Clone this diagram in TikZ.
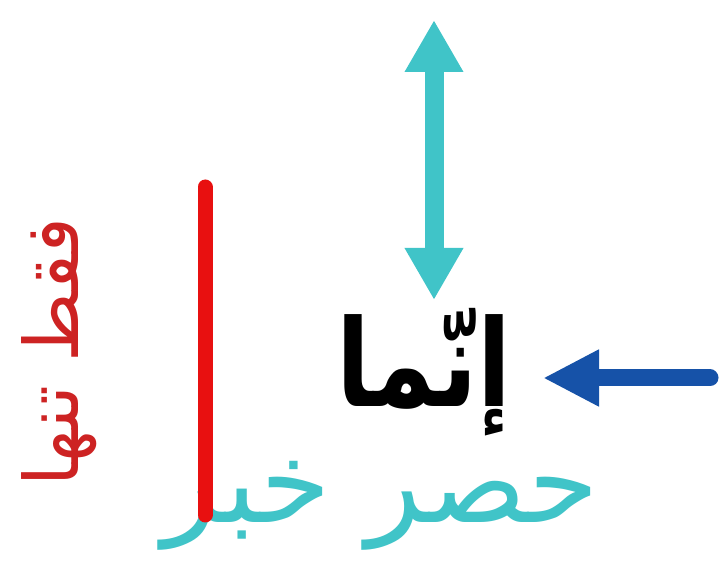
\documentclass[tikz,border=0pt]{standalone}
\usepackage{fontspec}
\usetikzlibrary{arrows.meta}
\TeXXeTstate=1
\newfontfamily\arabicfont[Script=Arabic]{DejaVu Sans}
\definecolor{tealc}{RGB}{64,196,200}
\definecolor{redl}{RGB}{232,16,16}
\definecolor{redt}{RGB}{205,35,35}
\definecolor{bluec}{RGB}{22,82,168}
\tikzset{
  dblarrow/.style={draw=tealc, line width=19pt, {Triangle[width=55pt,length=52pt]}-{Triangle[width=55pt,length=52pt]}},
  leftarrow/.style={draw=bluec, line width=17pt, line cap=round, -{Triangle[width=53pt,length=56pt]}},
  redbar/.style={draw=redl, line width=15pt, line cap=round},
  lbl/.style={inner sep=0pt, outer sep=0pt, anchor=base}
}
\begin{document}
\begin{tikzpicture}[x=1pt,y=1pt]
\useasboundingbox (0,0) rectangle (725,570);
\fill[white] (0,0) rectangle (725,570);
\coordinate (ab) at (434,270);
\coordinate (at) at (434,550);
\draw[dblarrow] (ab) -- (at);
\node[lbl, text=black, font=\arabicfont\bfseries\fontsize{110}{130}\selectfont] (innama) at (424,163) {\scalebox{0.9}[1.1]{\beginR إنّما\endR}};
\coordinate (btail) at (710,192);
\coordinate (btip) at (543,192);
\draw[leftarrow] (btail) -- (btip);
\node[lbl, text=tealc, font=\arabicfont\fontsize{114}{130}\selectfont] (hasr) at (381,48) {\beginR حصر خبر\endR};
\node[lbl, text=redt, rotate=90, font=\arabicfont\fontsize{75}{90}\selectfont] (faqat) at (78,218) {\beginR فقط تنها\endR};
\coordinate (rtop) at (205,383);
\coordinate (rbot) at (205,55);
\draw[redbar] (rtop) -- (rbot);
\end{tikzpicture}
\end{document}
